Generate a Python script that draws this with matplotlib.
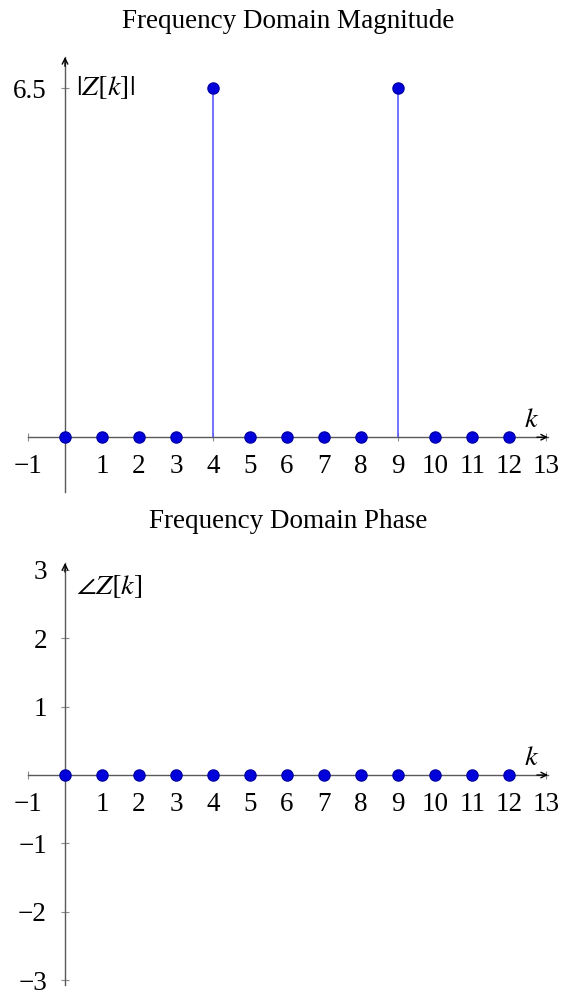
import numpy as np
import matplotlib
matplotlib.use('Agg')
import matplotlib.pyplot as plt

plt.rcParams['font.family'] = ['Liberation Serif', 'DejaVu Serif']
plt.rcParams['mathtext.fontset'] = 'stix'

# data
k = np.arange(0, 13)
magnitude = [0, 0, 0, 0, 6.5, 0, 0, 0, 0, 6.5, 0, 0, 0]
phase = [0, 0, 0, 0, 0, 0, 0, 0, 0, 0, 0, 0, 0]
x_ticks = [-1, 1, 2, 3, 4, 5, 6, 7, 8, 9, 10, 11, 12, 13]
mag_yticks = [6.5]
phase_yticks = [-3, -2, -1, 1, 2, 3]

W, H = 561, 994
fig = plt.figure(figsize=(W / 100, H / 100), dpi=100)

axis_gray = '0.35'
stem_color = '#5a5aff'
dot_color = '#0000dd'
fs = 19.5


def make_axes(top_px, bottom_px, ylim):
	left_px, right_px = 28, 548
	ax = fig.add_axes([left_px / W, 1 - bottom_px / H,
					   (right_px - left_px) / W, (bottom_px - top_px) / H])
	ax.set_xlim(-1, 13.05)
	ax.set_ylim(*ylim)
	for side in ['top', 'right']:
		ax.spines[side].set_visible(False)
	ax.spines['left'].set_position(('data', 0))
	ax.spines['bottom'].set_position(('data', 0))
	for side in ['left', 'bottom']:
		ax.spines[side].set_color(axis_gray)
		ax.spines[side].set_linewidth(1.0)
	ax.tick_params(direction='inout', length=6, width=0.8, color='0.55',
				   labelsize=fs, pad=9)
	ax.tick_params(axis='y', pad=10)
	ax.set_xticks(x_ticks)
	ax.set_xticklabels([str(v).replace('-', '\u2212') for v in x_ticks])
	# arrow heads
	x0, x1 = ax.get_xlim()
	y0, y1 = ax.get_ylim()
	ax.annotate('', xy=(x1, 0), xytext=(x1 - 0.3, 0),
				arrowprops=dict(arrowstyle='->', color='black', lw=1.0,
								shrinkA=0, shrinkB=0), annotation_clip=False)
	ax.annotate('', xy=(0, y1), xytext=(0, y1 - 0.3 * (y1 - y0) / 14),
				arrowprops=dict(arrowstyle='->', color='black', lw=1.0,
								shrinkA=0, shrinkB=0), annotation_clip=False)
	ax.annotate(r'$k$', xy=(12.6, 0), xytext=(0, 3), textcoords='offset points',
				ha='center', va='bottom', fontsize=fs + 1)
	return ax


# magnitude
ax1 = make_axes(57, 492, (-1.02, 7.08))
ax1.set_yticks(mag_yticks)
ax1.set_yticklabels(['6.5'])
ax1.vlines(k, 0, magnitude, color=stem_color, lw=1.2, zorder=3)
ax1.plot(k, magnitude, 'o', color=dot_color, mec='#0000aa', ms=8, zorder=4,
		 clip_on=False)
ax1.text(0.3, 6.5, r'$|Z[k]|$', ha='left', va='center', fontsize=fs + 1)

# phase
ax2 = make_axes(563, 985, (-3.07, 3.1))
ax2.set_yticks(phase_yticks)
ax2.set_yticklabels([str(v).replace('-', '\u2212') for v in phase_yticks])
ax2.vlines(k, 0, phase, color=stem_color, lw=1.2, zorder=3)
ax2.plot(k, phase, 'o', color=dot_color, mec='#0000aa', ms=8, zorder=4,
		 clip_on=False)
ax2.text(0.3, 2.75, r'$\angle Z[k]$', ha='left', va='center', fontsize=fs + 1)

fig.text(288 / W, 1 - 22 / H, 'Frequency Domain Magnitude', ha='center',
		 va='center', fontsize=fs)
fig.text(288 / W, 1 - 522 / H, 'Frequency Domain Phase', ha='center',
		 va='center', fontsize=fs)

fig.savefig('out.png', dpi=100)
